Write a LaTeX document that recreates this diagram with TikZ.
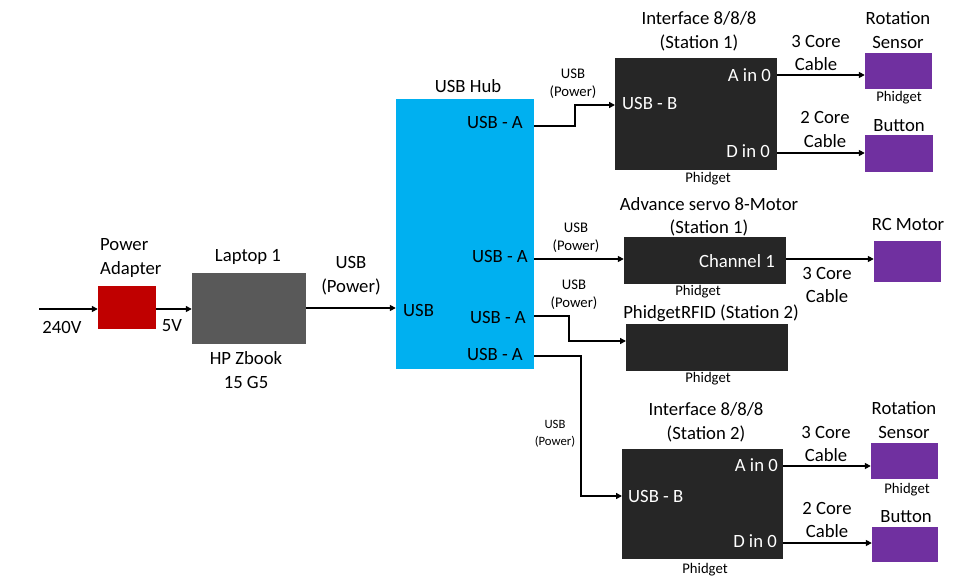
\documentclass[tikz,border=0pt]{standalone}
\usepackage{fontspec}
\setmainfont{Carlito}
\usetikzlibrary{arrows.meta}
\definecolor{hubblue}{HTML}{00B0F0}
\definecolor{darkred}{HTML}{C00000}
\definecolor{lapgray}{HTML}{595959}
\definecolor{phblack}{HTML}{262626}
\definecolor{sensorpurple}{HTML}{7030A0}
\tikzset{
  bigtxt/.style={inner sep=0pt, align=center, font=\fontsize{18.7}{23.5}\selectfont},
  smalltxt/.style={inner sep=0pt, align=center, font=\fontsize{14.7}{18}\selectfont},
  tinytxt/.style={inner sep=0pt, align=center, font=\fontsize{12.7}{17}\selectfont},
  whitetxt/.style={bigtxt, text=white},
  boxnode/.style={draw=none, inner sep=0pt},
  conn/.style={line width=1.6pt, -{Triangle[length=6pt,width=6pt]}},
}
\begin{document}
\begin{tikzpicture}[x=1pt,y=-1pt]
\useasboundingbox (0,0) rectangle (960,583);
% boxes
\node[boxnode, fill=darkred, minimum width=58, minimum height=43] (red) at (127,307.5) {};
\node[boxnode, fill=lapgray, minimum width=114, minimum height=71] (laptop) at (249,308.5) {};
\node[boxnode, fill=hubblue, minimum width=138, minimum height=270] (hub) at (465,234) {};
\node[boxnode, fill=phblack, minimum width=162, minimum height=112] (ifa) at (696,114) {};
\node[boxnode, fill=sensorpurple, minimum width=67, minimum height=36] (rota) at (898.5,71) {};
\node[boxnode, fill=sensorpurple, minimum width=68, minimum height=37] (btna) at (899,153.5) {};
\node[boxnode, fill=phblack, minimum width=162, minimum height=47] (servo) at (705,260.5) {};
\node[boxnode, fill=sensorpurple, minimum width=67, minimum height=41] (rc) at (907.5,261.5) {};
\node[boxnode, fill=phblack, minimum width=162, minimum height=47] (rfid) at (707,347.5) {};
\node[boxnode, fill=phblack, minimum width=161, minimum height=110] (ifb) at (702.5,504) {};
\node[boxnode, fill=sensorpurple, minimum width=67, minimum height=36] (rotb) at (904.5,461) {};
\node[boxnode, fill=sensorpurple, minimum width=66, minimum height=35] (btnb) at (905,544.5) {};
% port coordinates
\coordinate (in) at (39,309);
\coordinate (hubA1) at (534,126);
\coordinate (hubA2) at (534,259);
\coordinate (hubA3) at (534,316);
\coordinate (hubA4) at (534,356);
\coordinate (ifaIn) at (615,105);
\coordinate (rfidIn) at (626,341);
\coordinate (ifbIn) at (622,496);
\coordinate (ifaA) at (777,75);
\coordinate (ifaD) at (777,153);
\coordinate (ifbA) at (783,466);
\coordinate (ifbD) at (783,543);
% connectors
\draw[conn] (in) -- (in -| red.west);
\draw[conn] (in -| red.east) -- (in -| laptop.west);
\draw[conn] (laptop.east |- 0,308) -- (hub.west |- 0,308);
\draw[conn] (hubA1) -- ++(41,0) |- (ifaIn);
\draw[conn] (hubA2) -- (hubA2 -| servo.west);
\draw[conn] (hubA3) -- ++(35,0) |- (rfidIn);
\draw[conn] (hubA4) -- ++(47,0) |- (ifbIn);
\draw[conn] (ifaA) -- (ifaA -| rota.west);
\draw[conn] (ifaD) -- (ifaD -| btna.west);
\draw[conn] (servo.east |- hubA2) -- (rc.west |- hubA2);
\draw[conn] (ifbA) -- (ifbA -| rotb.west);
\draw[conn] (ifbD) -- (ifbD -| btnb.west);
% left labels
\node[bigtxt] (l240) at (62,327) {240V};
\node[bigtxt] (l5v) at (172,326) {5V};
\node[bigtxt, align=left, anchor=west] (lpa) at (100,258) {Power\\Adapter};
\node[bigtxt] (llap) at (248,257) {Laptop 1};
\node[bigtxt] (lhp) at (246,370) {HP Zbook\\15 G5};
\node[bigtxt] (lusbp) at (351,275.5) {USB\\(Power)};
% hub labels
\node[bigtxt] (lhub) at (468,86) {USB Hub};
\node[bigtxt, anchor=east] (lha1) at (523,123) {USB - A};
\node[bigtxt, anchor=east] (lha2) at (528,256) {USB - A};
\node[bigtxt, anchor=east] (lha3) at (526,317) {USB - A};
\node[bigtxt, anchor=east] (lha4) at (523,354) {USB - A};
\node[bigtxt, anchor=west] (lhin) at (403,310) {USB};
% small connector labels
\node[smalltxt] (sp1) at (573,84) {USB\\(Power)};
\node[smalltxt] (sp2) at (576,237.5) {USB\\(Power)};
\node[smalltxt] (sp3) at (574,294.5) {USB\\(Power)};
\node[tinytxt] (sp4) at (555,433.5) {USB\\(Power)};
% interface 1
\node[bigtxt] (tifa) at (699,31.5) {Interface 8/8/8\\(Station 1)};
\node[whitetxt, anchor=east] (ifaAt) at (771,75) {A in 0};
\node[whitetxt, anchor=east] (ifaDt) at (770,151) {D in 0};
\node[whitetxt, anchor=west] (ifaBt) at (622,104) {USB - B};
\node[smalltxt] (ifaP) at (708,179) {Phidget};
\node[bigtxt] (c3a) at (816,53) {3 Core\\Cable};
\node[bigtxt] (c2a) at (825,129.5) {2 Core\\Cable};
\node[bigtxt] (trota) at (898,30) {Rotation\\Sensor};
\node[smalltxt] (rotaP) at (899,98) {Phidget};
\node[bigtxt] (tbtna) at (899,126) {Button};
% servo
\node[bigtxt] (tservo) at (709,217) {Advance servo 8-Motor\\(Station 1)};
\node[whitetxt, anchor=east] (servoCh) at (775,261) {Channel 1};
\node[smalltxt] (servoP) at (698,292) {Phidget};
\node[bigtxt] (trc) at (908,224) {RC Motor};
\node[bigtxt] (c3s) at (827,285) {3 Core\\Cable};
% rfid
\node[bigtxt] (trfid) at (711,313) {PhidgetRFID (Station 2)};
\node[smalltxt] (rfidP) at (708,379) {Phidget};
% interface 2
\node[bigtxt] (tifb) at (706,422.5) {Interface 8/8/8\\(Station 2)};
\node[whitetxt, anchor=east] (ifbAt) at (778,465) {A in 0};
\node[whitetxt, anchor=east] (ifbDt) at (777,541) {D in 0};
\node[whitetxt, anchor=west] (ifbBt) at (628,496) {USB - B};
\node[smalltxt] (ifbP) at (705,570) {Phidget};
\node[bigtxt] (c3b) at (826,444) {3 Core\\Cable};
\node[bigtxt] (c2b) at (827,520) {2 Core\\Cable};
\node[bigtxt] (trotb) at (904,420) {Rotation\\Sensor};
\node[smalltxt] (rotbP) at (907,490) {Phidget};
\node[bigtxt] (tbtnb) at (906,517) {Button};
\end{tikzpicture}
\end{document}
